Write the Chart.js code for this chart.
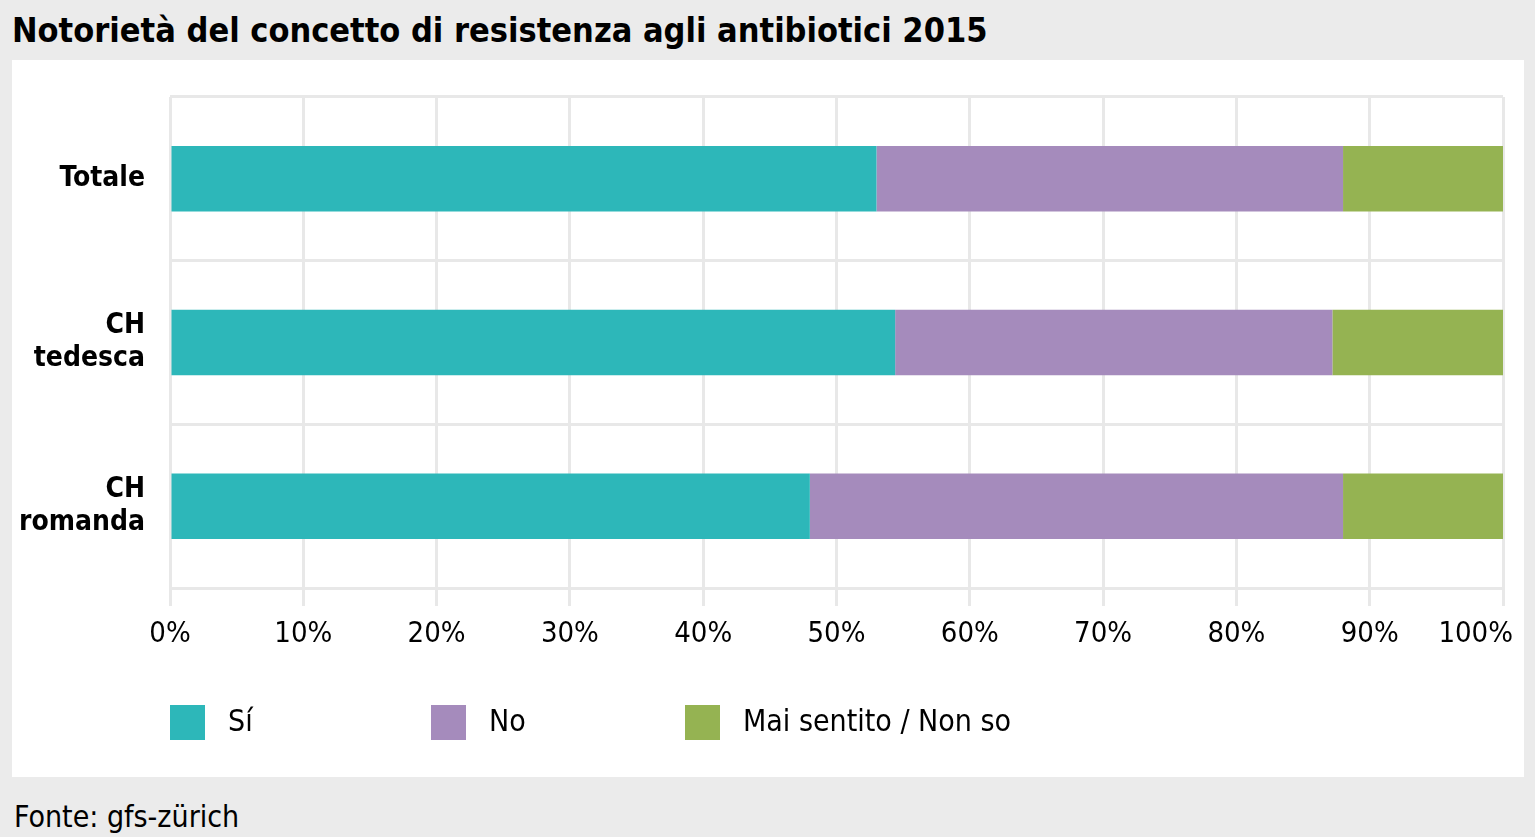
<!DOCTYPE html>
<html>
<head>
<meta charset="utf-8">
<script src="https://cdn.jsdelivr.net/npm/chart.js@4.4.0/dist/chart.umd.min.js"></script>
<style>
  html, body { margin:0; padding:0; background:#ebebeb; width:1535px; height:837px; overflow:hidden; }
  body { font-family: 'DejaVu Sans Condensed', sans-serif; color:#000; position:relative; }
  #title { position:absolute; left:12px; top:10px; font-size:34px; font-weight:bold; white-space:nowrap; }
  #panel { position:absolute; left:12px; top:60px; width:1512px; height:717px; background:#fff; }
  #footer { position:absolute; left:14px; top:799px; font-size:30px; white-space:nowrap; }
  canvas { position:absolute; left:0; top:0; }
</style>
</head>
<body>
<div id="title">Notorietà del concetto di resistenza agli antibiotici 2015</div>
<div id="panel"><canvas id="c" width="1512" height="717"></canvas></div>
<div id="footer">Fonte: gfs-zürich</div>
<script>
const categories = [['Totale'], ['CH', 'tedesca'], ['CH', 'romanda']];
const seriesNames = ['Sí', 'No', 'Mai sentito / Non so'];
const valuesSi = [53, 54.4, 48];
const valuesNo = [35, 32.8, 40];
const valuesMai = [12, 12.8, 12];
const xTicks = [0, 10, 20, 30, 40, 50, 60, 70, 80, 90, 100];
const colors = ['#2db7b9', '#a58bbc', '#95b352'];

const FONT = "'DejaVu Sans Condensed', sans-serif";

const legendPlugin = {
  id: 'colLegend',
  beforeDraw(chart) {
    // keep the last x label ("100%") inside the panel, as in the reference
    const sx = chart.scales.x;
    const items = sx.getLabelItems(chart.chartArea);
    if (items.length) {
      const last = items[items.length - 1];
      last.options.textAlign = 'right';
      last.options.translation[0] = chart.width - 11;
    }
  },
  afterDraw(chart) {
    const ctx = chart.ctx;
    const area = chart.chartArea;
    const colStarts = [0, 261, 515];
    const boxTop = 645, box = 35;
    ctx.save();
    chart.data.datasets.forEach((ds, i) => {
      const x = area.left + colStarts[i];
      ctx.fillStyle = ds.backgroundColor;
      ctx.fillRect(x, boxTop, box, box);
      ctx.fillStyle = '#000';
      ctx.font = '30px ' + FONT;
      ctx.textBaseline = 'middle';
      ctx.textAlign = 'left';
      ctx.fillText(ds.label, x + 58, boxTop + box / 2 + 1);
    });
    ctx.restore();
  }
};

function noPad(scale) {
  scale.paddingLeft = 0; scale.paddingRight = 0;
  scale.paddingTop = 0; scale.paddingBottom = 0;
}

new Chart(document.getElementById('c'), {
  type: 'bar',
  data: {
    labels: categories,
    datasets: [
      { label: seriesNames[0], data: valuesSi, backgroundColor: colors[0] },
      { label: seriesNames[1], data: valuesNo, backgroundColor: colors[1] },
      { label: seriesNames[2], data: valuesMai, backgroundColor: colors[2] }
    ]
  },
  options: {
    indexAxis: 'y',
    responsive: false,
    animation: false,
    devicePixelRatio: 1,
    layout: { padding: { top: 37, right: 21, left: 0, bottom: 0 } },
    datasets: { bar: { categoryPercentage: 1, barPercentage: 0.4, borderWidth: 0 } },
    plugins: { legend: { display: false }, tooltip: { enabled: false }, title: { display: false } },
    scales: {
      x: {
        stacked: true,
        min: 0, max: 100,
        afterBuildTicks(scale) { scale.ticks = xTicks.map(v => ({ value: v })); },
        afterFit(scale) { scale.height = 189; noPad(scale); },
        grid: { color: '#e8e8e8', lineWidth: 3, tickLength: 18, drawTicks: true },
        border: { display: false },
        ticks: {
          callback: v => v + '%',
          color: '#000',
          font: { family: FONT, size: 29 },
          padding: 11,
          maxRotation: 0,
          autoSkip: false
        }
      },
      y: {
        stacked: true,
        afterFit(scale) { scale.width = 158; noPad(scale); },
        grid: { color: '#e8e8e8', lineWidth: 3, offset: true, drawTicks: false },
        border: { display: false },
        ticks: {
          color: '#000',
          font: { family: FONT, size: 28, weight: 'bold', lineHeight: 1.18 },
          padding: 25
        }
      }
    }
  },
  plugins: [legendPlugin]
});
</script>
</body>
</html>
